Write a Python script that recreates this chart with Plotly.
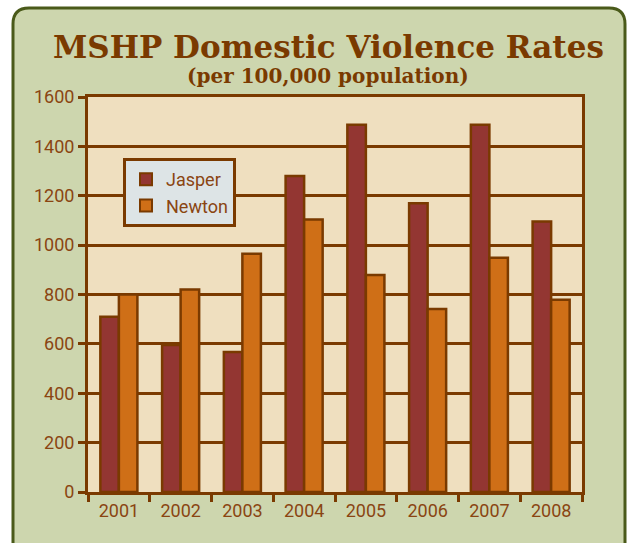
import plotly.graph_objects as go

years = ["2001", "2002", "2003", "2004", "2005", "2006", "2007", "2008"]
jasper = [710, 595, 567, 1280, 1488, 1170, 1488, 1096]
newton = [800, 820, 965, 1104, 879, 741, 949, 779]
y_ticks = [0, 200, 400, 600, 800, 1000, 1200, 1400, 1600]

BROWN = "#7a3a00"
TXT = "#8a4512"
TICKFONT = "Liberation Sans Narrow, Roboto, sans-serif"

fig = go.Figure()
fig.add_trace(go.Bar(name="Jasper", x=years, y=jasper,
                     marker=dict(color="#933632", line=dict(color=BROWN, width=2.5))))
fig.add_trace(go.Bar(name="Newton", x=years, y=newton,
                     marker=dict(color="#cf6f17", line=dict(color=BROWN, width=2.5))))

L, R, T, B = 88, 47, 97, 51
W, H = 629, 543
pw, ph = W - L - R, H - T - B

def px(x):
    return (x - L) / pw

def py(y):
    return (H - B - y) / ph

# rounded outer panel
x0, x1, y0, y1 = 13, 625, 8, 560
r = 16
path = (f"M {px(x0)},{py(y1)} L {px(x0)},{py(y0 + r)} Q {px(x0)},{py(y0)} {px(x0 + r)},{py(y0)} "
        f"L {px(x1 - r)},{py(y0)} Q {px(x1)},{py(y0)} {px(x1)},{py(y0 + r)} L {px(x1)},{py(y1)} Z")

fig.update_layout(
    width=W, height=H,
    margin=dict(l=L, r=R, t=T, b=B, pad=0),
    paper_bgcolor="white",
    plot_bgcolor="rgba(0,0,0,0)",
    barmode="group", bargap=0.4, bargroupgap=0,
    showlegend=True,
    legend=dict(x=px(123), y=py(158), xanchor="left", yanchor="top",
                bgcolor="#dde4e6", bordercolor=BROWN, borderwidth=3,
                font=dict(family=TICKFONT, size=18, color=TXT),
                itemsizing="constant", tracegroupgap=2),
    shapes=[
        dict(type="path", xref="paper", yref="paper", path=path,
             fillcolor="#cdd6ae", line=dict(color="#4a5a1a", width=3), layer="below"),
        dict(type="rect", xref="paper", yref="paper", x0=0, x1=1, y0=0, y1=1,
             fillcolor="#efdfbf", line=dict(width=0), layer="below"),
    ],
    annotations=[
        dict(text="<b>MSHP Domestic Violence Rates</b>", xref="paper", yref="paper",
             x=px(328), y=py(47), xanchor="center", yanchor="middle", showarrow=False,
             font=dict(family="DejaVu Serif, serif", size=31, color=BROWN)),
        dict(text="<b>(per 100,000 population)</b>", xref="paper", yref="paper",
             x=px(328), y=py(76), xanchor="center", yanchor="middle", showarrow=False,
             font=dict(family="DejaVu Serif, serif", size=20, color=BROWN)),
    ],
)

fig.update_yaxes(range=[0, 1600], tickvals=y_ticks, showgrid=True, gridcolor=BROWN, gridwidth=2.5,
                 showline=True, linecolor=BROWN, linewidth=3, mirror=True,
                 ticks="outside", ticklen=7, tickcolor=BROWN, tickwidth=2.5,
                 tickfont=dict(family=TICKFONT, size=18, color=TXT),
                 zeroline=False)
fig.update_xaxes(showline=True, linecolor=BROWN, linewidth=3, mirror=True,
                 ticks="outside", tickson="boundaries", ticklen=7, tickcolor=BROWN, tickwidth=2.5,
                 tickfont=dict(family=TICKFONT, size=18, color=TXT),
                 showgrid=False)

fig.write_html("out.html", config={"displayModeBar": False},
               post_script="document.body.style.margin='0';document.body.style.padding='0';")
